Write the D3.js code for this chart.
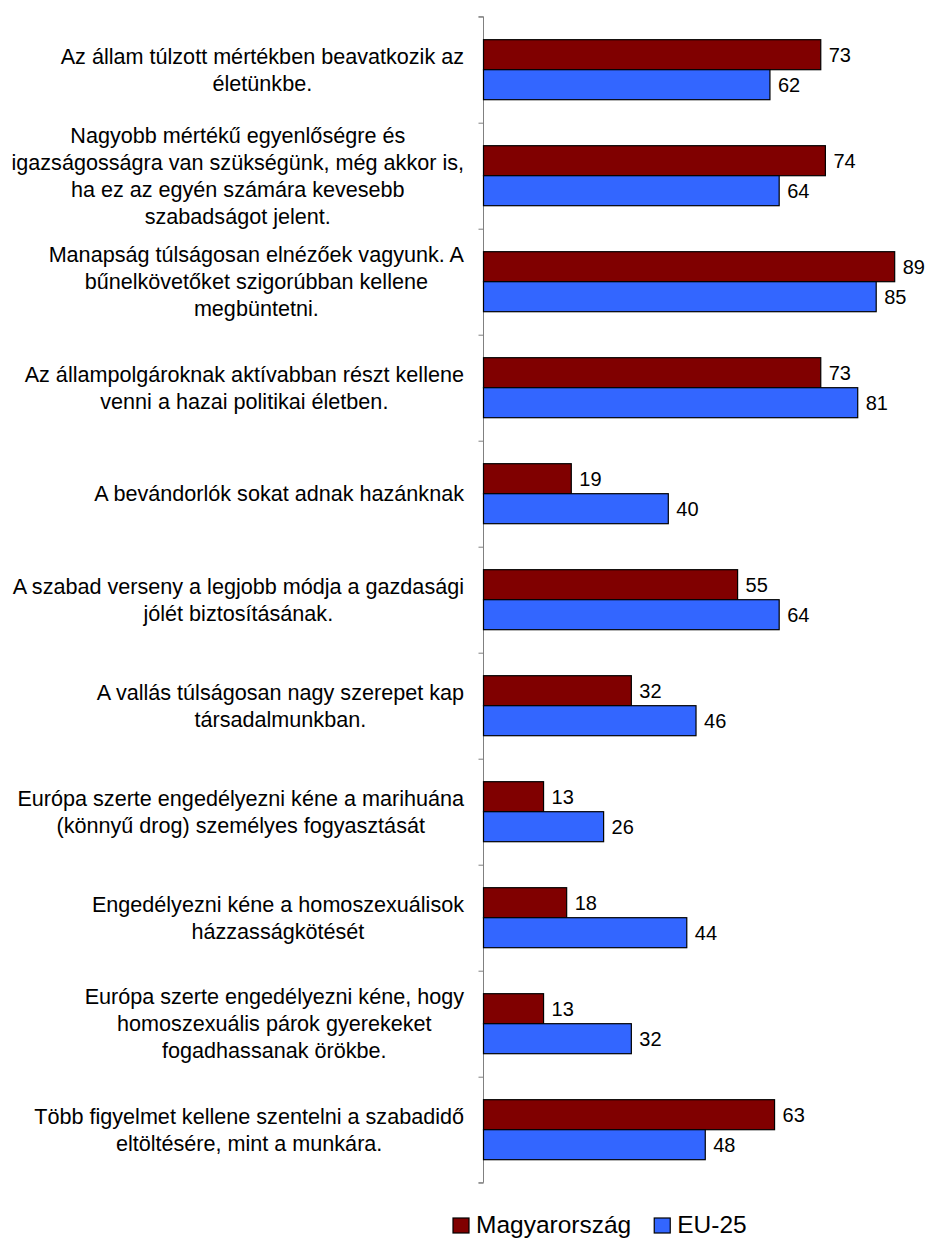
<!DOCTYPE html>
<html><head><meta charset="utf-8">
<script src="https://cdn.jsdelivr.net/npm/d3@7"></script>
<style>body{margin:0;background:#fff}svg{display:block}text{font-family:"Liberation Sans",Arial,sans-serif;fill:#000}</style>
</head><body><svg id="c" width="929" height="1240"></svg>
<script>
const categories = [
  ["Az állam túlzott mértékben beavatkozik az","életünkbe."],
  ["Nagyobb mértékű egyenlőségre és","igazságosságra van szükségünk, még akkor is,","ha ez az egyén számára kevesebb","szabadságot jelent."],
  ["Manapság túlságosan elnézőek vagyunk. A","bűnelkövetőket szigorúbban kellene","megbüntetni."],
  ["Az állampolgároknak aktívabban részt kellene","venni a hazai politikai életben."],
  ["A bevándorlók sokat adnak hazánknak"],
  ["A szabad verseny a legjobb módja a gazdasági","jólét biztosításának."],
  ["A vallás túlságosan nagy szerepet kap","társadalmunkban."],
  ["Európa szerte engedélyezni kéne a marihuána","(könnyű drog) személyes fogyasztását"],
  ["Engedélyezni kéne a homoszexuálisok","házzasságkötését"],
  ["Európa szerte engedélyezni kéne, hogy","homoszexuális párok gyerekeket","fogadhassanak örökbe."],
  ["Több figyelmet kellene szentelni a szabadidő","eltöltésére, mint a munkára."]
];
const seriesNames = ["Magyarország","EU-25"];
const hungary = [73,74,89,73,19,55,32,13,18,13,63];
const eu25 = [62,64,85,81,40,64,46,26,44,32,48];
const colors = ["#800000","#3366FF"];

const svg = d3.select("#c");
const x0 = 483.5, yTop = 16.7, yBot = 1182.7;
const x = d3.scaleLinear().domain([0,100]).range([x0, x0+462]);
const idx = d3.range(categories.length);
const y = d3.scaleBand().domain(idx).range([yTop,yBot]);
const bandInner = 60;
const sub = d3.scaleBand().domain([0,1]).range([0,bandInner]);

// axis
const axis = d3.axisLeft(d3.scaleLinear().domain([0,categories.length]).range([yTop,yBot]))
  .tickValues(d3.range(categories.length+1)).tickSize(5).tickFormat("");
const ag = svg.append("g").attr("transform",`translate(${x0},0)`).call(axis);
ag.selectAll("path,line").attr("stroke","#808080").attr("stroke-width",1);
ag.select(".domain").attr("d",`M-5,${yTop}H0V${yBot}H-5`);

const series = [hungary, eu25];
series.forEach((vals,s)=>{
  const g = svg.append("g");
  g.selectAll("rect").data(vals).join("rect")
    .attr("x",x(0)).attr("y",(d,i)=>y(i)+(y.bandwidth()-bandInner)/2+sub(s))
    .attr("width",d=>x(d)-x(0)).attr("height",sub.bandwidth())
    .attr("fill",colors[s]).attr("stroke","#000").attr("stroke-width",1.2);
  g.selectAll("text").data(vals).join("text")
    .attr("x",d=>x(d)+8).attr("y",(d,i)=>y(i)+(y.bandwidth()-bandInner)/2+sub(s)+sub.bandwidth()/2)
    .attr("dy","0.36em").attr("font-size",20).text(d=>d);
});

// category labels
const lh = 27;
categories.forEach((lines,i)=>{
  const cy = y(i)+y.bandwidth()/2;
  const g = svg.append("g");
  const ts = lines.map((l,k)=>g.append("text").attr("font-size",21.6).attr("text-anchor","middle")
    .attr("y", cy + (k-(lines.length-1)/2)*lh).attr("dy","0.36em").text(l));
  const w = d3.max(ts,t=>t.node().getComputedTextLength());
  ts.forEach(t=>t.attr("x",464 - w/2));
});

// legend
const lg = svg.append("g");
let lx = 453;
seriesNames.forEach((n,s)=>{
  lg.append("rect").attr("x",lx).attr("y",1218).attr("width",16).attr("height",15)
    .attr("fill",colors[s]).attr("stroke","#000").attr("stroke-width",1.2);
  const t = lg.append("text").attr("x",lx+23).attr("y",1233).attr("font-size",24.5).text(n);
  lx += 23 + t.node().getComputedTextLength() + 23;
});
</script></body></html>
